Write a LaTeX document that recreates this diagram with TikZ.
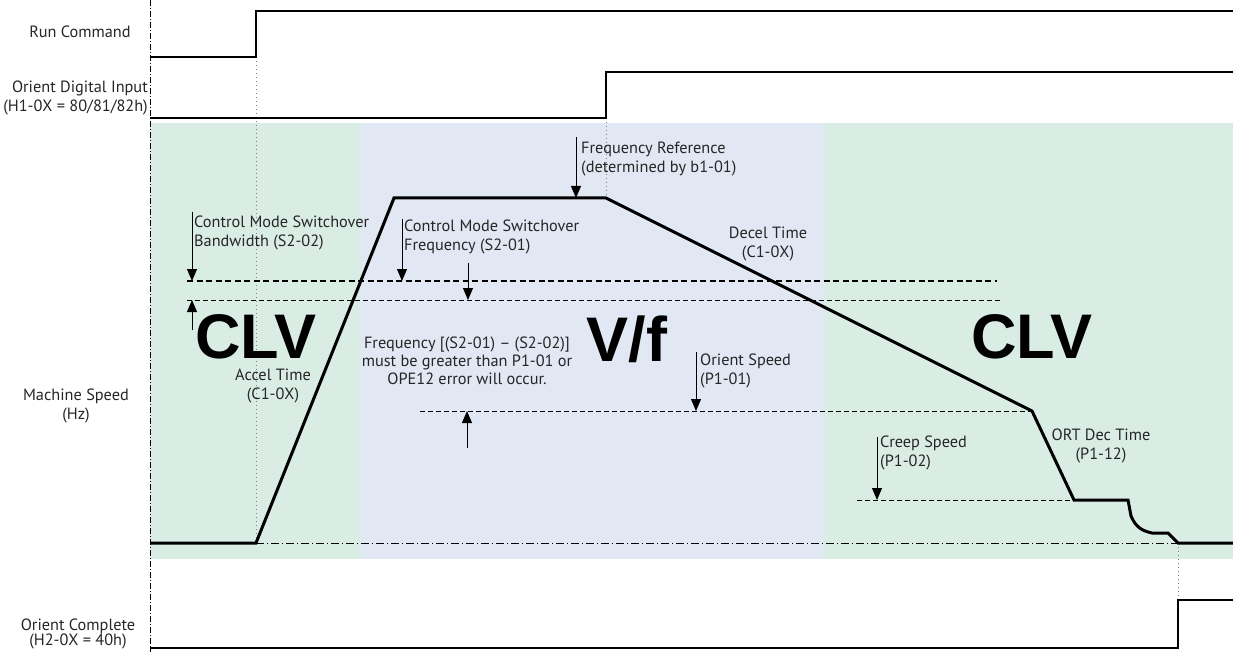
\documentclass[tikz,border=0pt]{standalone}
\usepackage{fontspec}
\setmainfont{PT Sans}
\newfontfamily\bigfont{Liberation Sans}
\usepackage{tikz}
\usetikzlibrary{arrows.meta}
\definecolor{clvgreen}{RGB}{218,237,229}
\definecolor{vfblue}{RGB}{225,232,243}

\begin{document}
\begin{tikzpicture}[x=1pt,y=-1pt,>={Triangle[length=12pt,width=10pt]},
                    font=\fontsize{16.3}{19}\selectfont]
  \tikzstyle{every node}=[inner sep=0pt,text=black!85]
  \tikzstyle{signal}=[line width=2pt]
  \tikzstyle{speed}=[line width=3pt,line join=miter]
  \tikzstyle{thresh}=[line width=0.9pt,dash pattern=on 5pt off 3pt]
  \tikzstyle{threshbold}=[line width=2.4pt,dash pattern=on 6pt off 3.5pt]
  \tikzstyle{zeroline}=[line width=0.9pt,dash pattern=on 8pt off 3pt on 1pt off 3pt]
  \tikzstyle{guide}=[line width=0.9pt,gray,dash pattern=on 1pt off 3pt]
  \tikzstyle{marker}=[->,line width=1pt]
  \tikzstyle{lefttext}=[align=left,anchor=west]
  \tikzstyle{mode}=[anchor=base,font=\bigfont\bfseries\fontsize{63}{63}\selectfont,text=black]

  \useasboundingbox (0,0) rectangle (1233,652);

  % control mode regions
  \fill[clvgreen] (150,123) rectangle (1233,559);
  \fill[vfblue]   (361,123) rectangle (823,559);

  % time axis
  \draw[line width=0.9pt,dash pattern=on 6pt off 2pt on 1pt off 2pt] (150,0) -- (150,652);

  % signal names
  \node                            (RUN)      at (80,32)    {Run Command};
  \node[align=right,anchor=east]   (ORIENTIN) at (148,97.5) {Orient Digital Input\\(H1-0X = 80/81/82h)};
  \node[align=center]              (SPEED)    at (76,406)   {Machine Speed\\(Hz)};
  \node[align=center,font=\fontsize{16.3}{15}\selectfont]
                                   (DONE)     at (78,634)   {Orient Complete\\(H2-0X = 40h)};

  % guides
  \draw[guide] (256,57) -- (256,543);
  \draw[guide] (606,118) -- (606,198);
  \draw[guide] (1178,543) -- (1178,600);
  \draw[zeroline] (256,543) -- (1178,543);

  % levels
  \draw[threshbold] (187,281) -- (997,281);
  \draw[thresh]     (187,300) -- (1002,300);
  \draw[thresh]     (420,411) -- (1032,411);
  \draw[thresh]     (857,500) -- (1074,500);

  % signals
  \draw[signal] (150,57) -- (256,57) -- (256,11) -- (1233,11);
  \draw[signal] (150,118) -- (606,118) -- (606,72) -- (1233,72);
  \draw[signal] (150,648) -- (1178,648) -- (1178,600) -- (1233,600);
  \draw[speed] (150,543) -- (256,543) -- (394,198) -- (606,198) -- (1032,411)
               -- (1074,500) -- (1128,500) -- (1131,516)
               .. controls (1136,528) and (1143,531) .. (1152,533)
               -- (1168,533) -- (1178,543) -- (1233,543);

  % annotations
  \node[lefttext] (BW)    at (194,232.5) {Control Mode Switchover\\Bandwidth (S2-02)};
  \node[lefttext] (SWF)   at (404,236.5) {Control Mode Switchover\\Frequency (S2-01)};
  \node[lefttext] (FREF)  at (581,159)   {Frequency Reference\\(determined by b1-01)};
  \node[align=center] (DECEL) at (768,244) {Decel Time\\(C1-0X)};
  \node[align=center] (ACCEL) at (273,386) {Accel Time\\(C1-0X)};
  \node[align=center,font=\fontsize{16.3}{18}\selectfont]
                  (NOTE)  at (467,361)   {Frequency [(S2-01) -- (S2-02)]\\must be greater than P1-01 or\\OPE12 error will occur.};
  \node[lefttext] (OSPD)  at (700,370.5) {Orient Speed\\(P1-01)};
  \node[lefttext] (CREEP) at (880,452.5) {Creep Speed\\(P1-02)};
  \node[align=center] (ORTDEC) at (1101,446) {ORT Dec Time\\(P1-12)};

  \node[mode] (CLVL) at (256,358)  {CLV};
  \node[mode] (VF)   at (627,361)  {V/f};
  \node[mode] (CLVR) at (1032,358) {CLV};

  % arrows
  \coordinate (bwtop) at (192,212);   \coordinate (bwtip) at (192,281);
  \coordinate (bwbot) at (192,330);   \coordinate (bwup)  at (192,300);
  \coordinate (swtop) at (402,219);   \coordinate (swtip) at (402,281);
  \coordinate (lotop) at (468,263);   \coordinate (lotip) at (468,300);
  \coordinate (frtop) at (576,137);   \coordinate (frtip) at (576,198);
  \coordinate (ostop) at (696,352);   \coordinate (ostip) at (696,411);
  \coordinate (osbot) at (467,448);   \coordinate (osup)  at (467,411);
  \coordinate (crtop) at (877,437);   \coordinate (crtip) at (877,500);

  \draw[marker] (bwtop) -- (bwtip);
  \draw[marker] (bwbot) -- (bwup);
  \draw[marker] (swtop) -- (swtip);
  \draw[marker] (lotop) -- (lotip);
  \draw[marker] (frtop) -- (frtip);
  \draw[marker] (ostop) -- (ostip);
  \draw[marker] (osbot) -- (osup);
  \draw[marker] (crtop) -- (crtip);
\end{tikzpicture}
\end{document}
